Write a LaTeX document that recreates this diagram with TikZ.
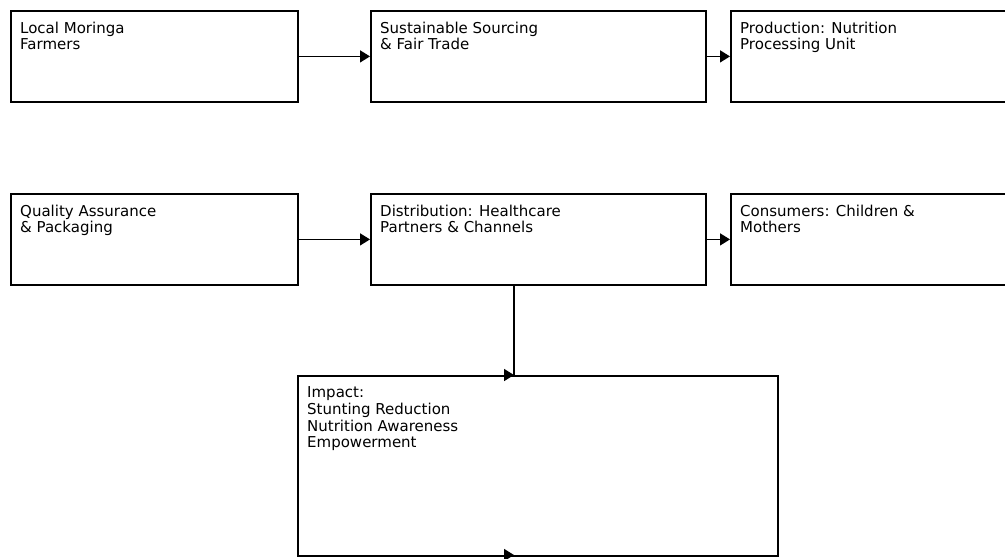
\documentclass[tikz,border=0pt]{standalone}
\usepackage{fontspec}
\setmainfont{DejaVu Sans}
\usetikzlibrary{arrows.meta}

\begin{document}
\begin{tikzpicture}[x=1pt,y=-1pt,
        stage/.style={draw,line width=1.8pt,anchor=north west,minimum height=91pt,inner sep=0pt},
        stagetext/.style={anchor=north west,align=left,inner sep=0pt,font=\fontsize{15}{16.7}\selectfont},
        flow/.style={line width=1.6pt,-{Triangle[length=10pt,width=12pt]}}]
        \useasboundingbox (0,0) rectangle (1005,558);

        \node[stage,minimum width=287pt] (farmers) at (10,10) {};
        \node[stage,minimum width=335pt] (sourcing) at (370,10) {};
        \node[stage,minimum width=300pt] (production) at (730,10) {};

        \node[stage,minimum width=287pt] (quality) at (10,193) {};
        \node[stage,minimum width=335pt] (distribution) at (370,193) {};
        \node[stage,minimum width=300pt] (consumers) at (730,193) {};

        \node[stage,minimum width=480pt,minimum height=180pt] (impact) at (297,375) {};

        \node[stagetext] (farmerstext) at ([xshift=10pt,yshift=-11.5pt]farmers.north west) {Local Moringa\\Farmers};
        \node[stagetext] (sourcingtext) at ([xshift=10pt,yshift=-11.5pt]sourcing.north west) {Sustainable Sourcing\\\& Fair Trade};
        \node[stagetext] (productiontext) at ([xshift=10pt,yshift=-11.5pt]production.north west) {Production: Nutrition\\Processing Unit};
        \node[stagetext] (qualitytext) at ([xshift=10pt,yshift=-11.5pt]quality.north west) {Quality Assurance\\\& Packaging};
        \node[stagetext] (distributiontext) at ([xshift=10pt,yshift=-11.5pt]distribution.north west) {Distribution: Healthcare\\Partners \& Channels};
        \node[stagetext] (consumerstext) at ([xshift=10pt,yshift=-11.5pt]consumers.north west) {Consumers: Children \&\\Mothers};
        \node[stagetext] (impacttext) at ([xshift=10pt,yshift=-11.5pt]impact.north west) {Impact:\\Stunting Reduction\\Nutrition Awareness\\Empowerment};

        \draw[flow] (farmers.east) -- (sourcing.west);
        \draw[flow] (sourcing.east) -- (production.west);
        \draw[flow] (quality.east) -- (distribution.west);
        \draw[flow] (distribution.east) -- (consumers.west);

        \coordinate (drop) at (514,375);
        \coordinate (tail) at (514,555);
        \draw[line width=1.6pt] (distribution.south -| drop) -- (drop);
        \draw[flow] ([xshift=-10pt]drop) -- (drop);
        \draw[flow] ([xshift=-10pt]tail) -- (tail);
    \end{tikzpicture}
\end{document}
